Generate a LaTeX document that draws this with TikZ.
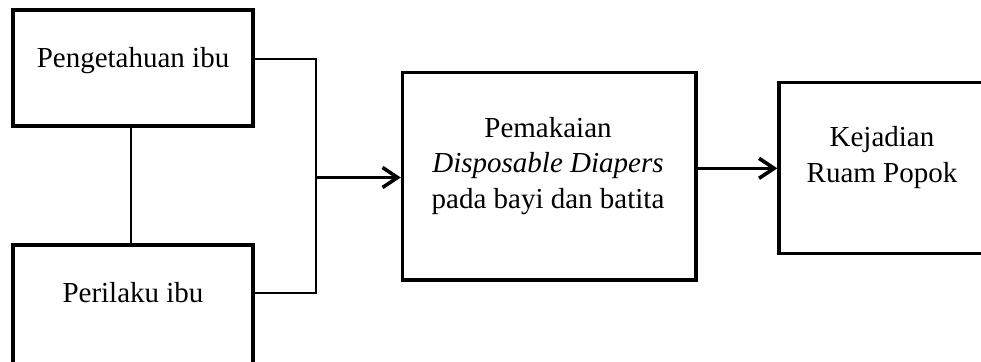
\documentclass[tikz,border=0pt]{standalone}
\usepackage{fontspec}
\setmainfont{Liberation Serif}
\usetikzlibrary{arrows.meta}
\tikzset{
  boxnode/.style={draw, line width=3.4pt, rectangle, inner sep=0pt},
  lbl/.style={inner sep=0pt, align=center, font=\fontsize{29}{35.5}\selectfont},
  thinl/.style={line width=1.8pt},
  arr/.style={line width=3.6pt, -{Straight Barb[length=15pt,width=20pt]}}
}
\begin{document}
\begin{tikzpicture}[x=1pt,y=-1pt]
\useasboundingbox (0,0) rectangle (981,361);
\clip (0,0) rectangle (981,361);
% boxes
\node[boxnode, minimum width=240pt, minimum height=116pt] (b1) at (133,68) {};
\node[boxnode, minimum width=240pt, minimum height=135pt] (b2) at (133,312.5) {};
\node[boxnode, minimum width=293.5pt, minimum height=207.5pt] (b3) at (549.25,176.25) {};
\node[boxnode, minimum width=221pt, minimum height=170.6pt] (b4) at (889.5,168) {};
% texts
\node[lbl, anchor=base] (t1) at (133,67) {Pengetahuan ibu};
\node[lbl, anchor=base] (t2) at (133,302) {Perilaku ibu};
\node[lbl] (t3) at (548,165.7) {Pemakaian\\\textit{Disposable Diapers}\\pada bayi dan batita};
\node[lbl] (t4) at (882,157.7) {Kejadian\\Ruam Popok};
% junction coordinates
\coordinate (jt) at (316,59);
\coordinate (jb) at (316,293);
\coordinate (jm) at (316,177.5);
\coordinate (m2) at (700,168.3);
% connectors
\draw[thinl] ([xshift=-2pt]b1.south) -- ([xshift=-2pt]b2.north);
\draw[thinl] (b1.east |- jt) -- (jt) -- (jb) -- (b2.east |- jb);
\draw[arr] (jm) -- (b3.west |- jm);
\draw[arr] (b3.east |- m2) -- (b4.west |- m2);
\end{tikzpicture}
\end{document}
